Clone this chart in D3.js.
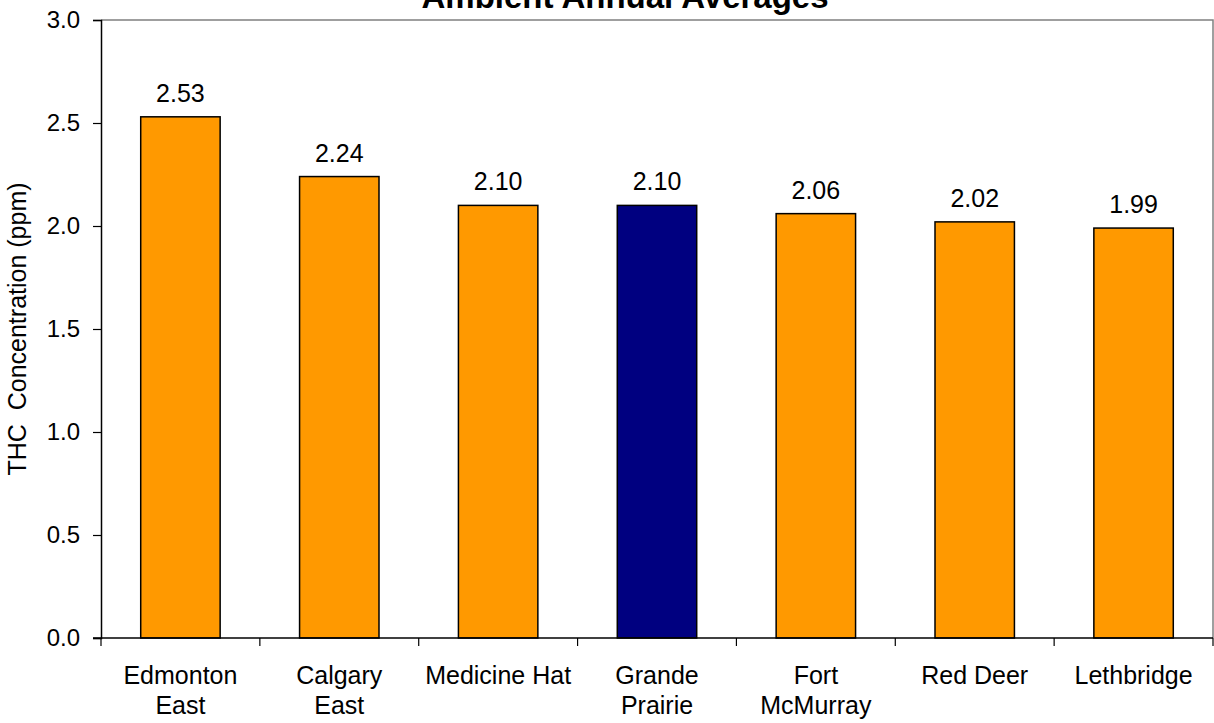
<!DOCTYPE html>
<html>
<head>
<meta charset="utf-8">
<script src="https://cdn.jsdelivr.net/npm/d3@7"></script>
<style>
  html, body { margin: 0; padding: 0; background: #fff; }
  svg { display: block; font-family: Arial, "Liberation Sans", sans-serif; }
</style>
</head>
<body>
<svg id="chart" width="1214" height="723"></svg>
<script>
// Station names (two-line labels split with "\n")
const stations = ["Edmonton\nEast", "Calgary\nEast", "Medicine Hat", "Grande\nPrairie", "Fort\nMcMurray", "Red Deer", "Lethbridge"];
// Annual average THC concentration (ppm)
const thcValues = [2.53, 2.24, 2.10, 2.10, 2.06, 2.02, 1.99];
const highlighted = ["Grande\nPrairie"];
const yTicks = [0, 0.5, 1.0, 1.5, 2.0, 2.5, 3.0];

const FONT = 25;
const TICK_FONT = 24;
const svg = d3.select("#chart");
const margin = { left: 101, right: 1213, top: 20, bottom: 638 };

const x = d3.scaleBand().domain(stations).range([margin.left, margin.right]).paddingInner(0.5).paddingOuter(0.25);
const xOuter = d3.scaleBand().domain(stations).range([margin.left, margin.right]).padding(0);
const y = d3.scaleLinear().domain([0, 3]).range([margin.bottom, margin.top]);

// Plot frame (top and right edges)
svg.append("path")
  .attr("d", `M${margin.left},${margin.top}H${margin.right}V${margin.bottom}`)
  .attr("fill", "none").attr("stroke", "#808080").attr("stroke-width", 1.5);

// Bars
svg.selectAll("rect.bar").data(stations).join("rect")
  .attr("class", "bar")
  .attr("x", d => x(d))
  .attr("width", x.bandwidth())
  .attr("y", (d, i) => y(thcValues[i]))
  .attr("height", (d, i) => y(0) - y(thcValues[i]))
  .attr("fill", d => highlighted.includes(d) ? "#000080" : "#FF9900")
  .attr("stroke", "#000").attr("stroke-width", 1.5);

// Value labels
svg.selectAll("text.val").data(stations).join("text")
  .attr("class", "val")
  .attr("x", d => x(d) + x.bandwidth() / 2)
  .attr("y", (d, i) => y(thcValues[i]) - 15)
  .attr("text-anchor", "middle")
  .attr("font-size", FONT)
  .text((d, i) => thcValues[i].toFixed(2));

// Y axis
const yAxis = svg.append("g").attr("transform", `translate(${margin.left},0)`)
  .call(d3.axisLeft(y).tickValues(yTicks).tickFormat(d3.format(".1f")).tickSize(8).tickPadding(13));
yAxis.select(".domain").attr("stroke", "#000").attr("stroke-width", 1.5);
yAxis.selectAll(".tick line").attr("stroke", "#000").attr("stroke-width", 1.2);
yAxis.selectAll(".tick text").attr("font-size", TICK_FONT).attr("fill", "#000").attr("font-family", "Arial, 'Liberation Sans', sans-serif");

// X axis baseline and category boundary ticks
svg.append("line")
  .attr("x1", margin.left - 8).attr("x2", margin.right)
  .attr("y1", y(0)).attr("y2", y(0))
  .attr("stroke", "#000").attr("stroke-width", 1.5);
const boundaries = stations.map(s => xOuter(s)).concat([margin.right]);
svg.selectAll("line.xtick").data(boundaries).join("line")
  .attr("class", "xtick")
  .attr("x1", d => d).attr("x2", d => d)
  .attr("y1", y(0)).attr("y2", y(0) + 8)
  .attr("stroke", "#000").attr("stroke-width", 1.2);

// Category labels
const xl = svg.selectAll("text.cat").data(stations).join("text")
  .attr("class", "cat")
  .attr("text-anchor", "middle")
  .attr("font-size", FONT)
  .attr("x", d => xOuter(d) + xOuter.bandwidth() / 2)
  .attr("y", 684);
xl.selectAll("tspan").data(d => d.split("\n").map(t => ({ t, parent: d }))).join("tspan")
  .attr("x", d => xOuter(d.parent) + xOuter.bandwidth() / 2)
  .attr("dy", (d, i) => i === 0 ? 0 : 30)
  .text(d => d.t);

// Y axis title
svg.append("text")
  .attr("transform", `translate(26,${(margin.top + margin.bottom) / 2}) rotate(-90)`)
  .attr("text-anchor", "middle")
  .attr("font-size", FONT)
  .attr("xml:space", "preserve")
  .style("white-space", "pre")
  .text("THC  Concentration (ppm)");

// Chart title
svg.append("text")
  .attr("x", 625).attr("y", 8)
  .attr("text-anchor", "middle")
  .attr("font-size", 33)
  .attr("font-weight", "bold")
  .text("Ambient Annual Averages");
</script>
</body>
</html>
